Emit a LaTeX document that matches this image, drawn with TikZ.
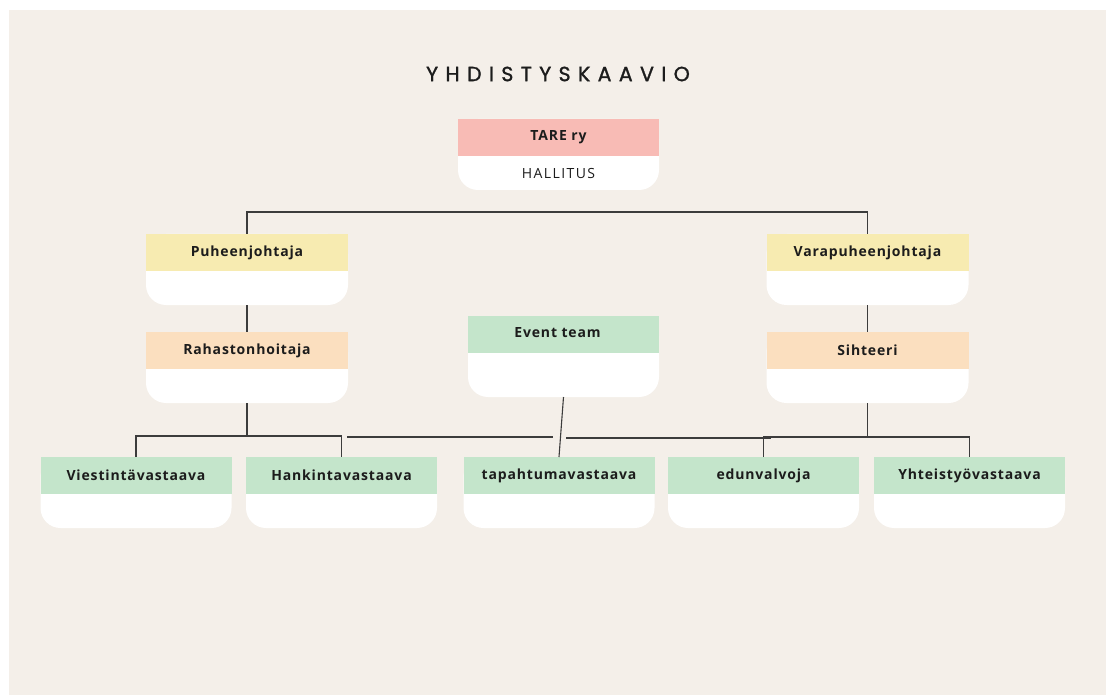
\documentclass[tikz,border=0pt]{standalone}
\usepackage{fontspec}
\setmainfont{Open Sans}[LetterSpace=6]
\newfontfamily\titlefont[LetterSpace=36, FakeBold=1.3]{Poppins}
\usepackage{tikz}
\usetikzlibrary{positioning}
\definecolor{paper}{HTML}{F4EFE9}
\definecolor{tarepink}{HTML}{F8BBB5}
\definecolor{chairyellow}{HTML}{F7EBB1}
\definecolor{officepeach}{HTML}{FBDFBF}
\definecolor{teamgreen}{HTML}{C4E5CB}
\definecolor{linegray}{HTML}{3C3C3C}
\definecolor{ink}{HTML}{1C1C1C}
\tikzset{
    role-box/.style = {fill=white, rectangle, rounded corners=20pt, inner sep=0pt, outer sep=0pt, minimum height=71pt},
    role-title/.style = {rectangle, inner sep=0pt, outer sep=0pt, minimum height=37pt, anchor=north, text=ink, font=\fontsize{14}{16}\selectfont\bfseries},
    link/.style = {draw=linegray, line width=1.1pt},
}

\begin{document}
\begin{tikzpicture}[x=1pt, y=-1pt]
\fill[white] (0,0) rectangle (1106,695);
\fill[paper] (9,10) rectangle (1106,695);
\useasboundingbox (0,0) rectangle (1106,695);

\node[text=ink, font=\titlefont\fontsize{20.5}{22}\selectfont] (otsikko) at (558,74) {YHDISTYSKAAVIO};

% hallitus
\node[role-box, minimum width=201pt] (tare) at (558.5,154.5) {};
\node[role-title, fill=tarepink, minimum width=201pt] (tare-title) at (tare.north) {TARE ry};
\node[below=0pt of tare-title, minimum height=34pt, inner sep=0pt, text=ink, font=\fontsize{14}{16}\selectfont\addfontfeature{LetterSpace=10}] (hallitus) {HALLITUS};

% puheenjohtajat
\node[role-box, minimum width=202pt] (puheenjohtaja) at (247,269.5) {};
\node[role-title, fill=chairyellow, minimum width=202pt] (puheenjohtaja-title) at (puheenjohtaja.north) {Puheenjohtaja};
\node[role-box, minimum width=202pt] (varapuheenjohtaja) at (867.5,269.5) {};
\node[role-title, fill=chairyellow, minimum width=202pt] (varapuheenjohtaja-title) at (varapuheenjohtaja.north) {Varapuheenjohtaja};

% rahastonhoitaja, sihteeri
\node[role-box, minimum width=202pt] (rahastonhoitaja) at (247,367.5) {};
\node[role-title, fill=officepeach, minimum width=202pt] (rahastonhoitaja-title) at (rahastonhoitaja.north) {Rahastonhoitaja};
\node[role-box, minimum width=202pt] (sihteeri) at (867.5,367.5) {};
\node[role-title, fill=officepeach, minimum width=202pt] (sihteeri-title) at (sihteeri.north) {Sihteeri};

% event team
\node[role-box, minimum width=191pt, minimum height=81pt] (event) at (563.5,356.5) {};
\node[role-title, fill=teamgreen, minimum width=191pt] (event-title) at (event.north) {\raisebox{3pt}{Event team}\hspace*{12pt}};

% vastaavat
\node[role-box, minimum width=191pt] (viestinta) at (136,492.5) {};
\node[role-title, fill=teamgreen, minimum width=191pt] (viestinta-title) at (viestinta.north) {Viestintävastaava};
\node[role-box, minimum width=191pt] (hankinta) at (341.5,492.5) {};
\node[role-title, fill=teamgreen, minimum width=191pt] (hankinta-title) at (hankinta.north) {Hankintavastaava};
\node[role-box, minimum width=191pt] (tapahtuma) at (559,492.5) {};
\node[role-title, fill=teamgreen, minimum width=191pt] (tapahtuma-title) at (tapahtuma.north) {tapahtumavastaava};
\node[role-box, minimum width=191pt] (edunvalvoja) at (763.5,492.5) {};
\node[role-title, fill=teamgreen, minimum width=191pt] (edunvalvoja-title) at (edunvalvoja.north) {edunvalvoja};
\node[role-box, minimum width=191pt] (yhteistyo) at (969.5,492.5) {};
\node[role-title, fill=teamgreen, minimum width=191pt] (yhteistyo-title) at (yhteistyo.north) {Yhteistyövastaava};

% viivat
\draw[link] (puheenjohtaja-title.north) -- ++(0,-22) -| (varapuheenjohtaja-title.north);
\draw[link] (puheenjohtaja.south) -- (rahastonhoitaja-title.north);
\draw[link] (varapuheenjohtaja.south) -- (sihteeri-title.north);
\draw[link] (rahastonhoitaja.south) -- ++(0,33) coordinate (raha-fork);
\draw[link] (viestinta-title.north) |- (raha-fork) -| (hankinta-title.north);
\draw[link] (sihteeri.south) -- ++(0,34) coordinate (sihteeri-fork);
\draw[link] (edunvalvoja-title.north) |- (sihteeri-fork) -| (yhteistyo-title.north);
\draw[link] (event.south) -- (tapahtuma-title.north);
\coordinate (gap-a) at (347,437);
\coordinate (gap-b) at (553,437);
\coordinate (gap-c) at (566,438);
\coordinate (gap-d) at (771,438);
\draw[link] (gap-a) -- (gap-b);
\draw[link] (gap-c) -- (gap-d);
\end{tikzpicture}
\end{document}
